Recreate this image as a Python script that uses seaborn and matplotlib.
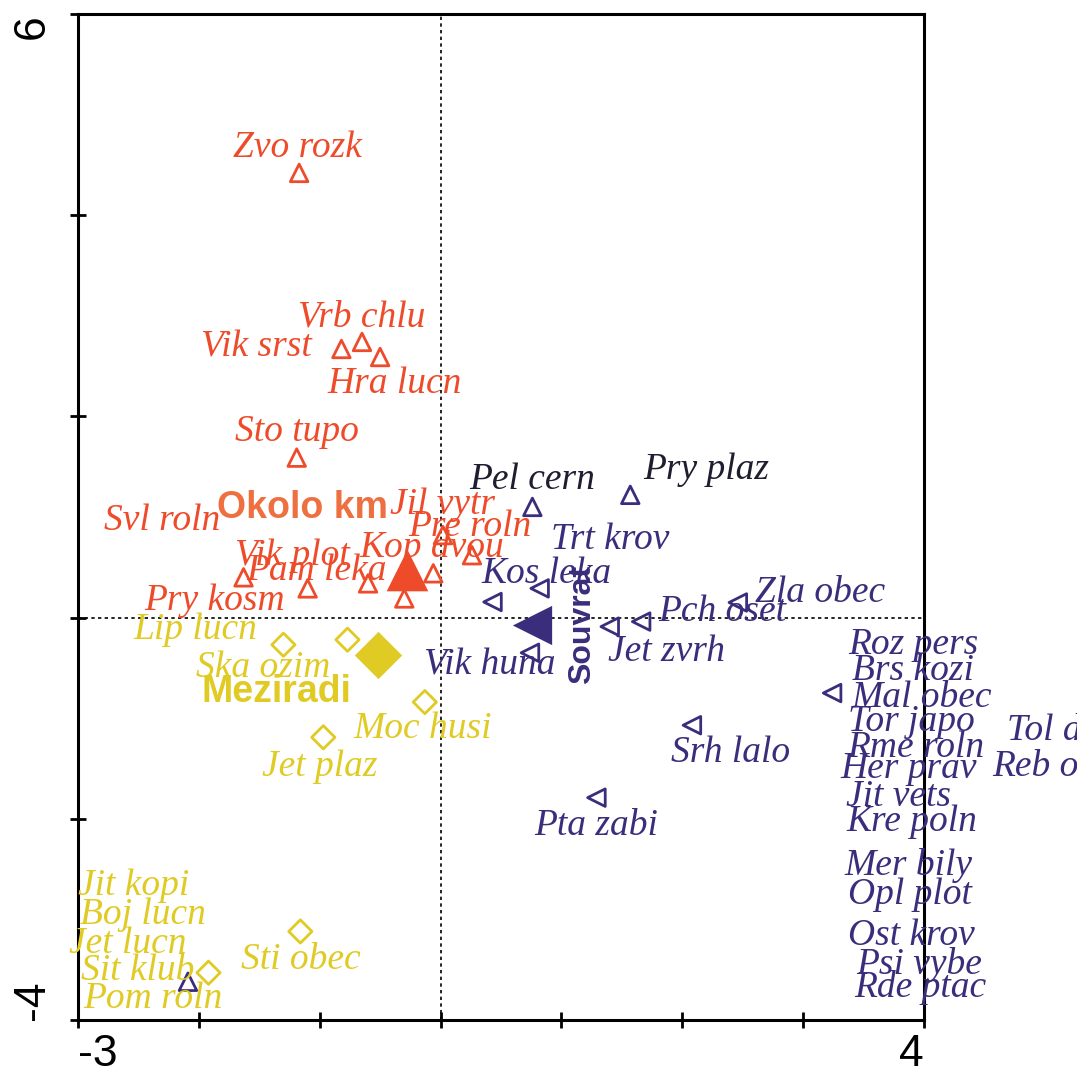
import matplotlib
matplotlib.use("Agg")
import matplotlib.pyplot as plt
import seaborn as sns

# --- Okolo km (red triangles) ---
okolo_x = [-1.17, -0.82, -0.65, -0.50, -1.19, 0.02, 0.26, -0.06, -1.63, -1.10, -0.60, -0.30]
okolo_y = [4.42, 2.67, 2.74, 2.59, 1.59, 0.82, 0.62, 0.44, 0.40, 0.29, 0.34, 0.19]
okolo_names = ["Zvo rozk", "Vrb chlu", "Vik srst", "Hra lucn", "Sto tupo", "Svl roln",
               "Jil vytr", "Pre roln", "Kop dvou", "Vik plot", "Pam leka", "Pry kosm"]
okolo_lx = [-1.18, -0.65, -1.52, -0.38, -1.19, -2.30, 0.02, 0.24, -0.07, -1.23, -1.03, -1.87]
okolo_ly = [4.67, 2.99, 2.69, 2.32, 1.85, 0.96, 1.12, 0.90, 0.70, 0.61, 0.47, 0.17]
okolo_centroid = (-0.28, 0.47)

# --- Souvrat (purple triangles) ---
souvrat_up_x = [0.76, 1.57, -2.09]
souvrat_up_y = [1.10, 1.22, -3.62]
souvrat_left_x = [0.82, 0.43, 0.74, 1.40, 1.66, 2.46, 3.24, 2.08, 1.29]
souvrat_left_y = [0.29, 0.155, -0.35, -0.09, -0.04, 0.15, -0.75, -1.07, -1.79]
souvrat_names = ["Pel cern", "Pry plaz", "Trt krov", "Kos leka", "Zla obec", "Pch oset",
                 "Jet zvrh", "Vik huna", "Srh lalo", "Pta zabi", "Roz pers", "Brs kozi",
                 "Mal obec", "Tor japo", "Rme roln", "Her prav", "Jit vets", "Kre poln",
                 "Mer bily", "Opl plot", "Ost krov", "Psi vybe", "Rde ptac", "Tol dete",
                 "Reb obec"]
souvrat_lx = [0.76, 2.20, 1.40, 0.88, 3.14, 2.33, 1.87, 0.41, 2.40, 1.29, 3.91, 3.91,
              3.98, 3.90, 3.93, 3.87, 3.79, 3.90, 3.87, 3.88, 3.90, 3.96, 3.97, 5.18, 5.14]
souvrat_ly = [1.37, 1.47, 0.77, 0.44, 0.25, 0.06, -0.34, -0.47, -1.34, -2.07, -0.27, -0.53,
              -0.80, -1.04, -1.29, -1.50, -1.78, -2.03, -2.46, -2.76, -3.16, -3.45, -3.68,
              -1.12, -1.48]
souvrat_centroid = (0.76, -0.07)

# --- Meziradi (yellow diamonds) ---
mezi_x = [-1.30, -0.77, -0.13, -0.97, -1.16, -1.92]
mezi_y = [-0.27, -0.22, -0.84, -1.19, -3.12, -3.53]
mezi_names = ["Lip lucn", "Ska ozim", "Moc husi", "Jet plaz", "Jit kopi", "Boj lucn",
              "Jet lucn", "Sit klub", "Pom roln", "Sti obec"]
mezi_lx = [-2.03, -1.47, -0.15, -1.00, -2.54, -2.46, -2.59, -2.51, -2.38, -1.16]
mezi_ly = [-0.12, -0.50, -1.11, -1.48, -2.67, -2.95, -3.24, -3.51, -3.79, -3.40]
mezi_centroid = (-0.52, -0.37)

red = "#EE4B2B"
orange = "#EE7040"
yellow = "#E0CB25"
purple = "#3A2E7C"
dark = "#1E1E30"

sns.set_style("white")
plt.rcParams["font.family"] = ["Liberation Sans", "DejaVu Sans"]

fig = plt.figure(figsize=(10.77, 10.73), dpi=100)
ax = fig.add_axes([0.0724, 0.0494, 0.7855, 0.9376])

ax.axhline(0, color="black", lw=1.2, ls=(0, (2, 2)), zorder=1)
ax.axvline(0, color="black", lw=1.2, ls=(0, (2, 2)), zorder=1)


def open_markers(x, y, marker, size, col):
    sns.scatterplot(x=x, y=y, marker=marker, s=size, color=col, linewidth=2, ax=ax, zorder=3)
    c = ax.collections[-1]
    c.set_facecolor("none")
    c.set_edgecolor(col)


open_markers(okolo_x, okolo_y, "^", 160, red)
open_markers(mezi_x, mezi_y, "D", 140, yellow)
open_markers(souvrat_left_x, souvrat_left_y, "<", 160, purple)
open_markers(souvrat_up_x, souvrat_up_y, "^", 160, purple)

# centroids
sns.scatterplot(x=[okolo_centroid[0]], y=[okolo_centroid[1]], marker="^", s=900,
                color=red, linewidth=0, ax=ax, zorder=4)
sns.scatterplot(x=[souvrat_centroid[0]], y=[souvrat_centroid[1]], marker="<", s=800,
                color=purple, linewidth=0, ax=ax, zorder=4)
sns.scatterplot(x=[mezi_centroid[0]], y=[mezi_centroid[1]], marker="D", s=580,
                color=yellow, linewidth=0, ax=ax, zorder=4)

lab = dict(family="Liberation Serif", style="italic", fontsize=27, ha="center", va="center", zorder=5)
for n, x, y in zip(okolo_names, okolo_lx, okolo_ly):
    ax.text(x, y, n, color=red, **lab)
for n, x, y in zip(souvrat_names, souvrat_lx, souvrat_ly):
    ax.text(x, y, n, color=dark if n in ("Pel cern", "Pry plaz") else purple, **lab)
for n, x, y in zip(mezi_names, mezi_lx, mezi_ly):
    ax.text(x, y, n, color=yellow, **lab)

grp = dict(family="Liberation Sans", weight="bold", ha="center", va="center", zorder=6)
ax.text(-1.14, 1.09, "Okolo km", color=orange, fontsize=27, **grp)
ax.text(-1.36, -0.74, "Meziradi", color=yellow, fontsize=27, **grp)
ax.text(1.17, -0.07, "Souvrat", color=purple, fontsize=23, rotation=90, **grp)

ax.set_xlim(-3, 4)
ax.set_ylim(-4, 6)
ax.set_xticks(range(-3, 5))
ax.set_xticklabels(["-3", "", "", "", "", "", "", "4"], fontsize=32)
ax.set_yticks(range(-4, 7, 2))
ax.set_yticklabels(["-4", "", "", "", "", "6"], fontsize=32, rotation=90)
xl = ax.get_xticklabels()
xl[0].set_ha("left")
xl[-1].set_ha("right")
yl = ax.get_yticklabels()
yl[0].set_va("bottom")
yl[-1].set_va("top")
ax.tick_params(axis="both", direction="inout", length=12, width=2, color="black",
               labelcolor="black", bottom=True, left=True)
ax.tick_params(axis="x", pad=4)
ax.tick_params(axis="y", pad=12)
for s in ax.spines.values():
    s.set_color("black")
    s.set_linewidth(2.2)
ax.set_xlabel("")
ax.set_ylabel("")

fig.savefig("out.png", dpi=100)
